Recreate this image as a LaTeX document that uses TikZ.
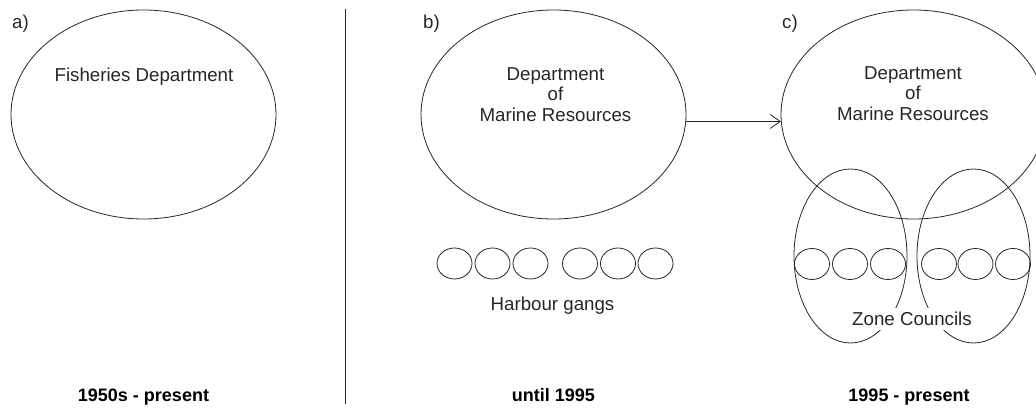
\documentclass[tikz,border=0pt]{standalone}
\usepackage{fontspec}
\setmainfont{Liberation Sans}
\usetikzlibrary{shapes.geometric,arrows.meta}
\tikzset{
  ln/.style={line width=0.8pt, draw=black!85},
  big/.style={ellipse, ln, minimum width=265pt, minimum height=209pt, inner sep=0pt},
  gang/.style={ellipse, ln, minimum width=35pt, minimum height=31pt, inner sep=0pt},
  zone/.style={ellipse, ln, minimum width=113pt, minimum height=174pt, inner sep=0pt},
  txt/.style={font=\fontsize{18.7}{20.5}\selectfont, inner sep=0pt, text=black!85},
  period/.style={font=\fontsize{18}{20}\selectfont\bfseries, inner sep=0pt, anchor=base, text=black},
  panel/.style={txt, anchor=base west},
}
\begin{document}
\begin{tikzpicture}[x=1pt,y=-1pt]
\useasboundingbox (0,0) rectangle (1036,411);
% panel labels
\node[panel] (la) at (12,28.5) {a)};
\node[panel] (lb) at (423,28.5) {b)};
\node[panel] (lc) at (782,28.5) {c)};
% big ellipses
\node[big] (fd) at (143.5,114.5) {};
\node[big] (dmr) at (553.5,114.5) {};
\node[big] (dmrc) at (913.5,114.5) {};
\node[txt, anchor=base] (fdt) at (144,82) {Fisheries Department};
\node[txt, anchor=north, align=center] (dmrt) at (555.5,67) {Department\\of\\Marine Resources};
\node[txt, anchor=north, align=center] (dmrct) at (913,66) {Department\\of\\Marine Resources};
% arrow
\draw[ln, -{Straight Barb[length=10pt,width=14pt]}] (dmr.-3) -- (dmrc.183);
% separator
\coordinate (vt) at (345,9);
\coordinate (vb) at (345,404);
\draw[ln] (vt) -- (vb);
% harbour gangs (b)
\foreach \i/\x in {1/454.5,2/492.5,3/530.5,4/580,5/618,6/655.5}
  \node[gang] (hb\i) at (\x,263.5) {};
\node[txt, anchor=base] (hg) at (552.5,311) {Harbour gangs};
% zone councils (c)
\node[zone] (zl) at (850.5,256) {};
\node[zone] (zr) at (973.5,256) {};
\foreach \i/\x in {1/812,2/850,3/888,4/939,5/975.5,6/1013}
  \node[gang] (hc\i) at (\x,264) {};
\node[txt, anchor=base, fill=white, inner xsep=2pt, inner ysep=4pt] (zc) at (912,326) {Zone Councils};
% periods
\node[period] (p1) at (143.5,402) {1950s - present};
\node[period] (p2) at (553.5,402) {until 1995};
\node[period] (p3) at (909,402) {1995 - present};
\end{tikzpicture}
\end{document}
